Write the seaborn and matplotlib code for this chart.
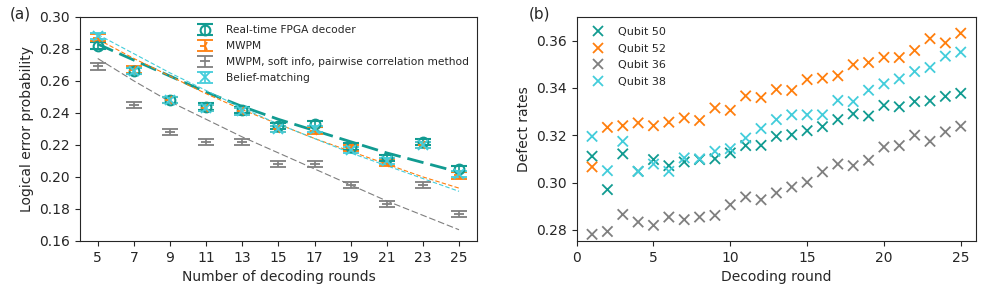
# Logical error vs decoding rounds, and defect rates per round

import numpy as np
import pandas as pd
import matplotlib
matplotlib.use("Agg")
import matplotlib.pyplot as plt
import seaborn as sns

# ----------------------------
# Dados - painel (a)
rounds = [5, 7, 9, 11, 13, 15, 17, 19, 21, 23, 25]

fpga = [0.282, 0.266, 0.248, 0.244, 0.242, 0.232, 0.233, 0.219, 0.212, 0.222, 0.205]
mwpm = [0.287, 0.267, 0.248, 0.243, 0.241, 0.230, 0.229, 0.218, 0.209, 0.220, 0.201]
mwpm_soft = [0.269, 0.245, 0.228, 0.222, 0.222, 0.208, 0.208, 0.195, 0.183, 0.195, 0.177]
belief = [0.288, 0.266, 0.248, 0.243, 0.241, 0.230, 0.230, 0.217, 0.210, 0.220, 0.202]

fpga_err = [0.002] * 11
mwpm_err = [0.002] * 11
mwpm_soft_err = [0.002] * 11
belief_err = [0.002] * 11

# curvas de ajuste
fpga_fit = [0.283, 0.273, 0.263, 0.253, 0.244, 0.236, 0.229, 0.222, 0.215, 0.209, 0.203]
mwpm_fit = [0.286, 0.274, 0.263, 0.252, 0.242, 0.233, 0.224, 0.216, 0.208, 0.200, 0.193]
mwpm_soft_fit = [0.274, 0.260, 0.247, 0.236, 0.225, 0.215, 0.205, 0.195, 0.185, 0.176, 0.167]
belief_fit = [0.289, 0.277, 0.265, 0.254, 0.243, 0.233, 0.224, 0.215, 0.207, 0.199, 0.191]

# ----------------------------
# Dados - painel (b)
decoding_round = list(range(1, 26))

qubit50 = [0.3111, 0.2970, 0.3121, 0.3047, 0.3097, 0.3071, 0.3087, 0.3097, 0.3100, 0.3125,
           0.3156, 0.3157, 0.3195, 0.3202, 0.3219, 0.3236, 0.3266, 0.3290, 0.3281, 0.3326,
           0.3320, 0.3342, 0.3345, 0.3364, 0.3377]
qubit52 = [0.3066, 0.3233, 0.3240, 0.3252, 0.3240, 0.3255, 0.3273, 0.3262, 0.3315, 0.3305,
           0.3366, 0.3359, 0.3393, 0.3389, 0.3435, 0.3441, 0.3451, 0.3498, 0.3507, 0.3529,
           0.3528, 0.3558, 0.3608, 0.3590, 0.3631]
qubit36 = [0.2781, 0.2793, 0.2865, 0.2833, 0.2819, 0.2854, 0.2843, 0.2854, 0.2861, 0.2906,
           0.2939, 0.2927, 0.2956, 0.2981, 0.3001, 0.3045, 0.3078, 0.3071, 0.3094, 0.3150,
           0.3156, 0.3200, 0.3174, 0.3214, 0.3238]
qubit38 = [0.3195, 0.3050, 0.3174, 0.3047, 0.3078, 0.3047, 0.3104, 0.3100, 0.3132, 0.3143,
           0.3188, 0.3228, 0.3266, 0.3286, 0.3286, 0.3286, 0.3347, 0.3342, 0.3390, 0.3417,
           0.3438, 0.3469, 0.3486, 0.3534, 0.3551]

# Cores
teal = "#119b91"
orange = "#ff7f0e"
gray = "#7f7f7f"
cyan = "#43cddb"

# Configuração de estilo
sns.set_style("ticks")
plt.rcParams["font.family"] = ["DejaVu Sans"]

fig = plt.figure(figsize=(9.96, 2.91), dpi=100)
ax1 = fig.add_axes([0.080, 0.172, 0.399, 0.770])
ax2 = fig.add_axes([0.579, 0.172, 0.401, 0.770])

# ----------------------------
# PAINEL (a)
sns.lineplot(x=rounds, y=fpga_fit, ax=ax1, color=teal, lw=2, dashes=[(6, 2.5)], style=0, legend=False)
sns.lineplot(x=rounds, y=mwpm_fit, ax=ax1, color=orange, lw=0.8, dashes=[(4, 2)], style=0, legend=False)
sns.lineplot(x=rounds, y=belief_fit, ax=ax1, color=cyan, lw=0.8, dashes=[(4, 2)], style=0, legend=False)
sns.lineplot(x=rounds, y=mwpm_soft_fit, ax=ax1, color=gray, lw=0.8, dashes=[(6, 2.5)], style=0, legend=False)

eb = dict(ls="none", capsize=6, elinewidth=1.2, capthick=1.2, markersize=7)
ax1.errorbar(rounds, fpga, yerr=fpga_err, fmt="o", color=teal, mfc="none", mew=1.5,
             label="Real-time FPGA decoder", **eb)
ax1.errorbar(rounds, mwpm, yerr=mwpm_err, fmt="3", color=orange, mew=1.3,
             label="MWPM", **eb)
ax1.errorbar(rounds, mwpm_soft, yerr=mwpm_soft_err, fmt="_", color=gray, mew=1.3,
             label="MWPM, soft info, pairwise correlation method", **eb)
ax1.errorbar(rounds, belief, yerr=belief_err, fmt="x", color=cyan, mew=1.3,
             label="Belief-matching", **eb)

ax1.set_xlim(4, 26)
ax1.set_ylim(0.16, 0.30)
ax1.set_xticks(rounds)
ax1.set_xlabel("Number of decoding rounds")
ax1.set_ylabel("Logical error probability")
ax1.legend(loc="upper right", frameon=False, fontsize=7.7, labelspacing=0.55,
           handlelength=1.3, handletextpad=1.3, borderaxespad=0.4)

# ----------------------------
# PAINEL (b)
df = pd.DataFrame({
    "round": decoding_round * 4,
    "rate": qubit50 + qubit52 + qubit36 + qubit38,
    "qubit": ["Qubit 50"] * 25 + ["Qubit 52"] * 25 + ["Qubit 36"] * 25 + ["Qubit 38"] * 25,
})
sns.scatterplot(data=df, x="round", y="rate", hue="qubit", ax=ax2, marker="x", s=55,
                linewidth=1.3, palette=[teal, orange, gray, cyan])
ax2.set_xlim(0, 26)
ax2.set_ylim(0.2753, 0.370)
ax2.set_xlabel("Decoding round")
ax2.set_ylabel("Defect rates")
ax2.legend(loc="upper left", frameon=False, fontsize=8, labelspacing=0.6, title=None)

fig.text(0.010, 0.935, "(a)", fontsize=11)
fig.text(0.531, 0.935, "(b)", fontsize=11)

plt.savefig("out.png", dpi=100)
